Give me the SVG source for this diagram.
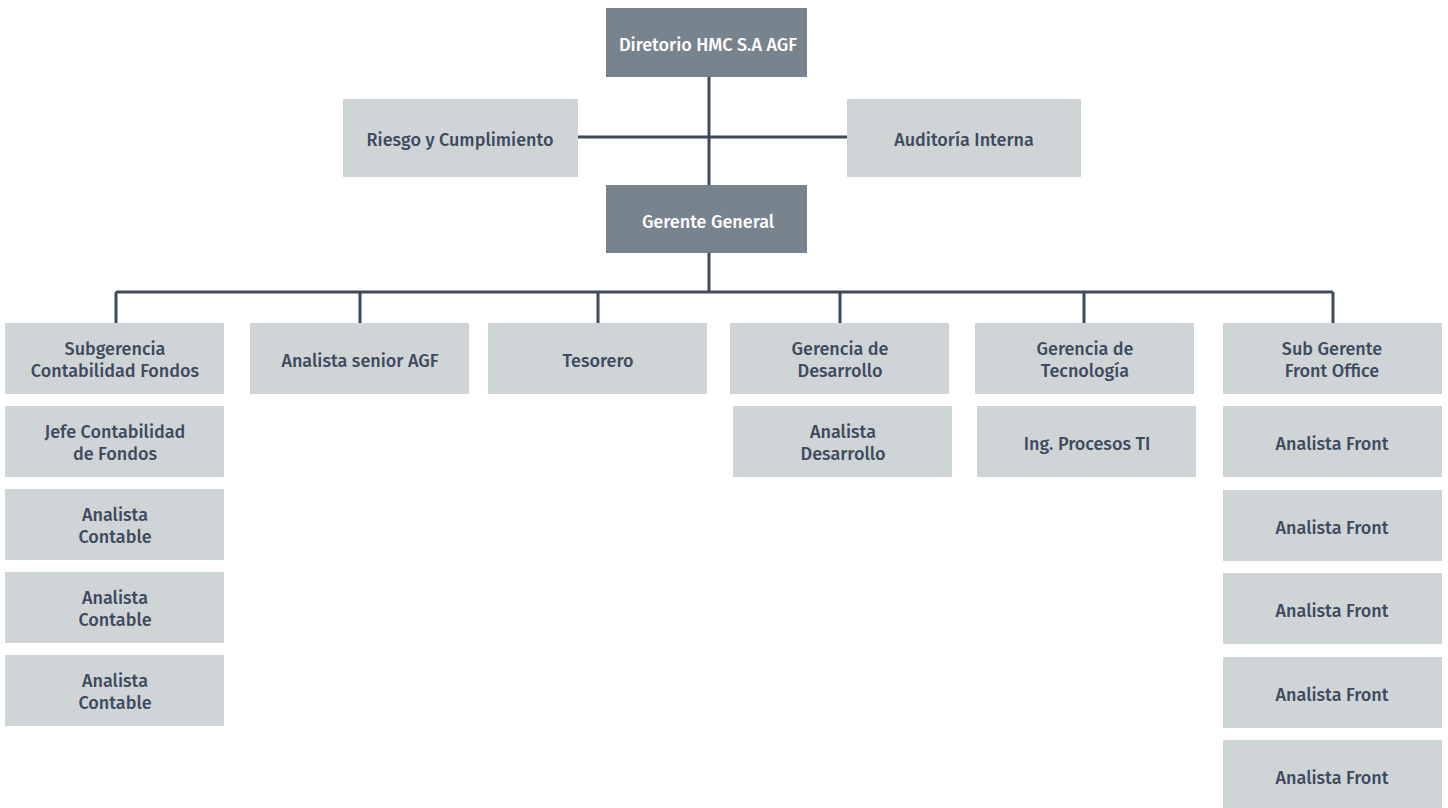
<svg xmlns="http://www.w3.org/2000/svg" width="1448" height="808" viewBox="0 0 1448 808">
<style>
.d{fill:#77838d}
.l{fill:#cfd5d6}
text{font-family:"Fira Sans","Noto Sans","Open Sans",sans-serif;font-weight:500;font-size:18px;text-anchor:middle;fill:#3e4b5e}
text.w{fill:#ffffff}
.c{stroke:#3e4a5c;stroke-width:3;fill:none}
</style>
<rect width="1448" height="808" fill="#ffffff"/>
<g id="connectors">
<path class="c" d="M709 76V185M578 137H847M709 252V292M116 292H1333M116 292V323M360 292V323M598 292V323M840 292V323M1084 292V323M1333 292V323"/>
</g>
<g id="n-diretorio"><rect class="d" x="606" y="8" width="201" height="69"/><text class="w" x="708" y="51">Diretorio HMC S.A AGF</text></g>
<g id="n-riesgo"><rect class="l" x="343" y="99" width="235" height="78"/><text x="460" y="146">Riesgo y Cumplimiento</text></g>
<g id="n-auditoria"><rect class="l" x="847" y="99" width="234" height="78"/><text x="964" y="146">Auditoría Interna</text></g>
<g id="n-gerente"><rect class="d" x="606" y="185" width="201" height="68"/><text class="w" x="708" y="228">Gerente General</text></g>

<g id="n-subgerencia"><rect class="l" x="5" y="323" width="219" height="71"/><text x="115" y="355">Subgerencia</text><text x="115" y="377">Contabilidad Fondos</text></g>
<g id="n-jefe"><rect class="l" x="5" y="406" width="219" height="71"/><text x="115" y="438">Jefe Contabilidad</text><text x="115" y="460">de Fondos</text></g>
<g id="n-ac1"><rect class="l" x="5" y="489" width="219" height="71"/><text x="115" y="521">Analista</text><text x="115" y="543">Contable</text></g>
<g id="n-ac2"><rect class="l" x="5" y="572" width="219" height="71"/><text x="115" y="604">Analista</text><text x="115" y="626">Contable</text></g>
<g id="n-ac3"><rect class="l" x="5" y="655" width="219" height="71"/><text x="115" y="687">Analista</text><text x="115" y="709">Contable</text></g>

<g id="n-senior"><rect class="l" x="250" y="323" width="219" height="71"/><text x="360" y="367">Analista senior AGF</text></g>
<g id="n-tesorero"><rect class="l" x="488" y="323" width="219" height="71"/><text x="598" y="367">Tesorero</text></g>
<g id="n-gdes"><rect class="l" x="730" y="323" width="219" height="71"/><text x="840" y="355">Gerencia de</text><text x="840" y="377">Desarrollo</text></g>
<g id="n-ades"><rect class="l" x="733" y="406" width="219" height="71"/><text x="843" y="438">Analista</text><text x="843" y="460">Desarrollo</text></g>
<g id="n-gtec"><rect class="l" x="975" y="323" width="219" height="71"/><text x="1085" y="355">Gerencia de</text><text x="1085" y="377">Tecnología</text></g>
<g id="n-ing"><rect class="l" x="977" y="406" width="219" height="71"/><text x="1087" y="450">Ing. Procesos TI</text></g>
<g id="n-sub"><rect class="l" x="1223" y="323" width="219" height="71"/><text x="1332" y="355">Sub Gerente</text><text x="1332" y="377">Front Office</text></g>
<g id="n-af1"><rect class="l" x="1223" y="406" width="219" height="71"/><text x="1332" y="450">Analista Front</text></g>
<g id="n-af2"><rect class="l" x="1223" y="490" width="219" height="71"/><text x="1332" y="534">Analista Front</text></g>
<g id="n-af3"><rect class="l" x="1223" y="573" width="219" height="71"/><text x="1332" y="617">Analista Front</text></g>
<g id="n-af4"><rect class="l" x="1223" y="657" width="219" height="71"/><text x="1332" y="701">Analista Front</text></g>
<g id="n-af5"><rect class="l" x="1223" y="740" width="219" height="71"/><text x="1332" y="784">Analista Front</text></g>
</svg>
